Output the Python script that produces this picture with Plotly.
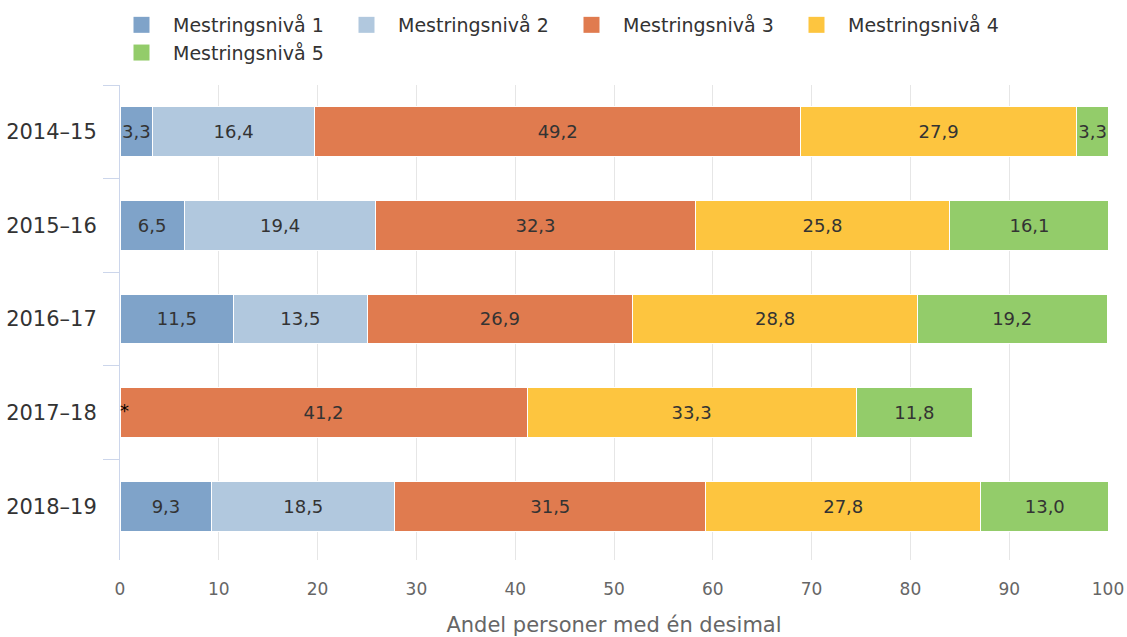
import plotly.graph_objects as go

years = ["2014–15", "2015–16", "2016–17", "2017–18", "2018–19"]
series_names = ["Mestringsnivå 1", "Mestringsnivå 2", "Mestringsnivå 3", "Mestringsnivå 4", "Mestringsnivå 5"]
niva1 = [3.3, 6.5, 11.5, None, 9.3]
niva2 = [16.4, 19.4, 13.5, None, 18.5]
niva3 = [49.2, 32.3, 26.9, 41.2, 31.5]
niva4 = [27.9, 25.8, 28.8, 33.3, 27.8]
niva5 = [3.3, 16.1, 19.2, 11.8, 13.0]
colors = ["#7fa3c9", "#b1c8de", "#e07b4f", "#fdc53f", "#93cc6a"]
suppressed_year = "2017–18"
x_ticks = list(range(0, 101, 10))

FONT = "DejaVu Sans"

fig = go.Figure()
for name, vals, col in zip(series_names, [niva1, niva2, niva3, niva4, niva5], colors):
    fig.add_trace(go.Bar(
        name=name, y=years, x=vals, orientation="h",
        marker=dict(color=col, line=dict(color="white", width=1)),
        text=[("" if v is None else f"{v:.1f}".replace(".", ",")) for v in vals],
        textposition="inside", insidetextanchor="middle", textangle=0,
        constraintext="none",
        textfont=dict(family=FONT, size=18, color="#333333"),
        hoverinfo="skip", showlegend=False,
    ))
# legend entries (square swatches)
for name, col in zip(series_names, colors):
    fig.add_trace(go.Scatter(
        name=name, x=[None], y=[None], mode="markers",
        marker=dict(symbol="square", size=16, color=col),
        showlegend=True, hoverinfo="skip",
    ))

fig.add_annotation(x=0, y=suppressed_year, text="*", showarrow=False,
                   xanchor="left", yanchor="middle", xshift=-2, yshift=2,
                   font=dict(family=FONT, size=18, color="#000000"))

fig.update_layout(
    barmode="stack",
    width=1127, height=637,
    margin=dict(l=120, r=19, t=85, b=77, autoexpand=False),
    paper_bgcolor="white", plot_bgcolor="white",
    bargap=0.466,
    font=dict(family=FONT, color="#333333"),
    legend=dict(orientation="h", x=0.0976, xanchor="left", xref="container",
                y=0.9906, yanchor="top", yref="container",
                entrywidth=157, entrywidthmode="pixels", itemwidth=53,
                font=dict(family=FONT, size=19, color="#333333"),
                traceorder="normal", itemclick=False, itemdoubleclick=False),
    xaxis=dict(range=[0, 100], tickvals=x_ticks, showgrid=True, gridcolor="#e6e6e6",
               gridwidth=1, zeroline=False, showline=False,
               ticks="outside", ticklen=14, tickcolor="rgba(0,0,0,0)",
               tickfont=dict(family=FONT, size=17, color="#666666"),
               title=dict(text="Andel personer med én desimal",
                          font=dict(family=FONT, size=21, color="#666666"), standoff=22)),
    yaxis=dict(range=[4.575, -0.5], showline=True, linecolor="#ccd6eb", linewidth=1,
               ticks="outside", tickson="boundaries", ticklen=16, tickcolor="#ccd6eb",
               ticklabelstandoff=18,
               showgrid=False, automargin=False,
               tickfont=dict(family=FONT, size=21, color="#333333")),
)

fig.write_html(
    "out.html",
    config={"displayModeBar": False},
    post_script="document.body.style.margin='0';document.body.style.overflow='hidden';",
)
